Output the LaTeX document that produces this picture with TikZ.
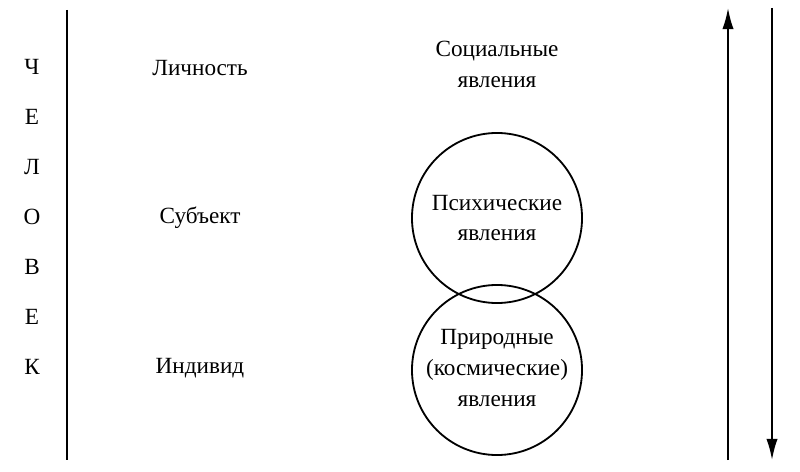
\documentclass[tikz,border=0pt]{standalone}
\usepackage{fontspec}
\setmainfont{Liberation Serif}
\usetikzlibrary{arrows.meta}
\tikzset{lbl/.style={font=\fontsize{16.5}{22}\selectfont, align=center},
         ring/.style={draw, line width=1.3pt, circle, minimum size=4.25cm}}
\begin{document}
\begin{tikzpicture}[x=0.025cm, y=-0.025cm]
      \useasboundingbox (0,0) rectangle (800,472);

      \draw[line width=1.3pt] (67,10) -- (67,460);

      \foreach \ch [count=\i] in {Ч,Е,Л,О,В,Е,К}
        \node[lbl] (c\i) at (32,{17+50*\i}) {\ch};

      \node[lbl] (lich) at (200,68)  {Личность};
      \node[lbl] (subj) at (200,218) {Субъект};
      \node[lbl] (ind)  at (200,368) {Индивид};

      \node[lbl] (soc) at (497,64) {Социальные\\явления};
      \node[ring] (psy) at (497,218) {};
      \node[ring] (nat) at (497,370) {};
      \node[lbl] (psyt) at (497,218) {Психические\\явления};
      \node[lbl] (natt) at (497,368) {Природные\\(космические)\\явления};

      \coordinate (upb) at (728,460);
      \coordinate (upt) at (728,8);
      \coordinate (dnt) at (772,8);
      \coordinate (dnb) at (772,460);
      \draw[line width=1.3pt, -{Latex[length=15pt,width=8pt]}] (upb) -- (upt);
      \draw[line width=1.3pt, -{Latex[length=15pt,width=8pt]}] (dnt) -- (dnb);

  \end{tikzpicture}
\end{document}
